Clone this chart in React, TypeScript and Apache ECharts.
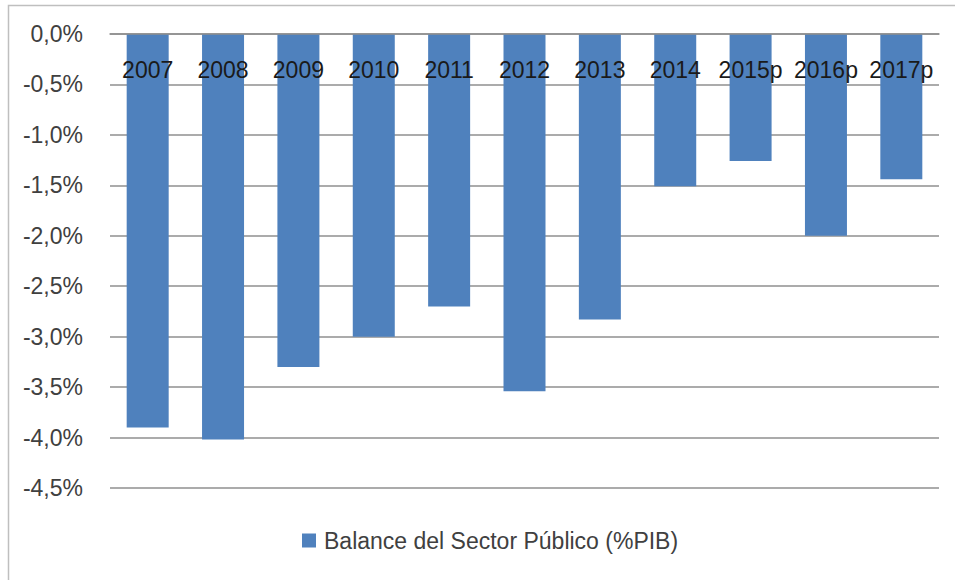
import React, { useEffect, useRef } from "react";
import * as echarts from "echarts";

const categories = ["2007", "2008", "2009", "2010", "2011", "2012", "2013", "2014", "2015p", "2016p", "2017p"];
const balanceValues = [-3.9, -4.02, -3.3, -3.0, -2.7, -3.54, -2.83, -1.51, -1.26, -2.0, -1.44];
const seriesName = "Balance del Sector Público (%PIB)";

const FONT = "'Liberation Sans', Arial, sans-serif";

export default function App() {
  const ref = useRef<HTMLDivElement>(null);
  useEffect(() => {
    if (!ref.current) return;
    const chart = echarts.init(ref.current, null, { renderer: "svg" });
    chart.setOption({
      animation: false,
      backgroundColor: "#ffffff",
      graphic: [
        {
          type: "rect",
          shape: { x: 8.5, y: 5.5, width: 960, height: 600 },
          style: { fill: "none", stroke: "#bfbfbf", lineWidth: 1.5 },
          silent: true,
        },
      ],
      grid: { left: 110, right: 16, top: 34, bottom: 92, containLabel: false },
      legend: {
        data: [seriesName],
        left: 302,
        top: 529,
        padding: 0,
        itemWidth: 14,
        itemHeight: 14,
        icon: "rect",
        textStyle: { fontFamily: FONT, fontSize: 23, color: "#404040", padding: [0, 0, 0, 3] },
      },
      xAxis: {
        type: "category",
        position: "top",
        data: categories,
        axisLine: { onZero: false, lineStyle: { color: "#8f8f8f", width: 1.5 } },
        axisTick: { show: false },
        axisLabel: {
          inside: true,
          interval: 0,
          margin: 24,
          fontFamily: FONT,
          fontSize: 23,
          color: "#1a1a1a",
        },
        z: 10,
      },
      yAxis: {
        type: "value",
        min: -4.5,
        max: 0,
        interval: 0.5,
        axisLine: { show: false },
        axisTick: { show: false },
        splitLine: { lineStyle: { color: "#8f8f8f", width: 1.5 } },
        axisLabel: {
          margin: 27,
          fontFamily: FONT,
          fontSize: 23,
          color: "#404040",
          formatter: (v: number) => (Math.abs(v) < 1e-9 ? "0,0%" : v.toFixed(1).replace(".", ",") + "%"),
        },
      },
      series: [
        {
          name: seriesName,
          type: "bar",
          data: balanceValues,
          barWidth: 42,
          z: 2,
          itemStyle: { color: "#4f81bd" },
        },
      ],
    });
    return () => chart.dispose();
  }, []);
  return <div ref={ref} style={{ position: "fixed", left: 0, top: 0, width: 955, height: 580 }} />;
}
